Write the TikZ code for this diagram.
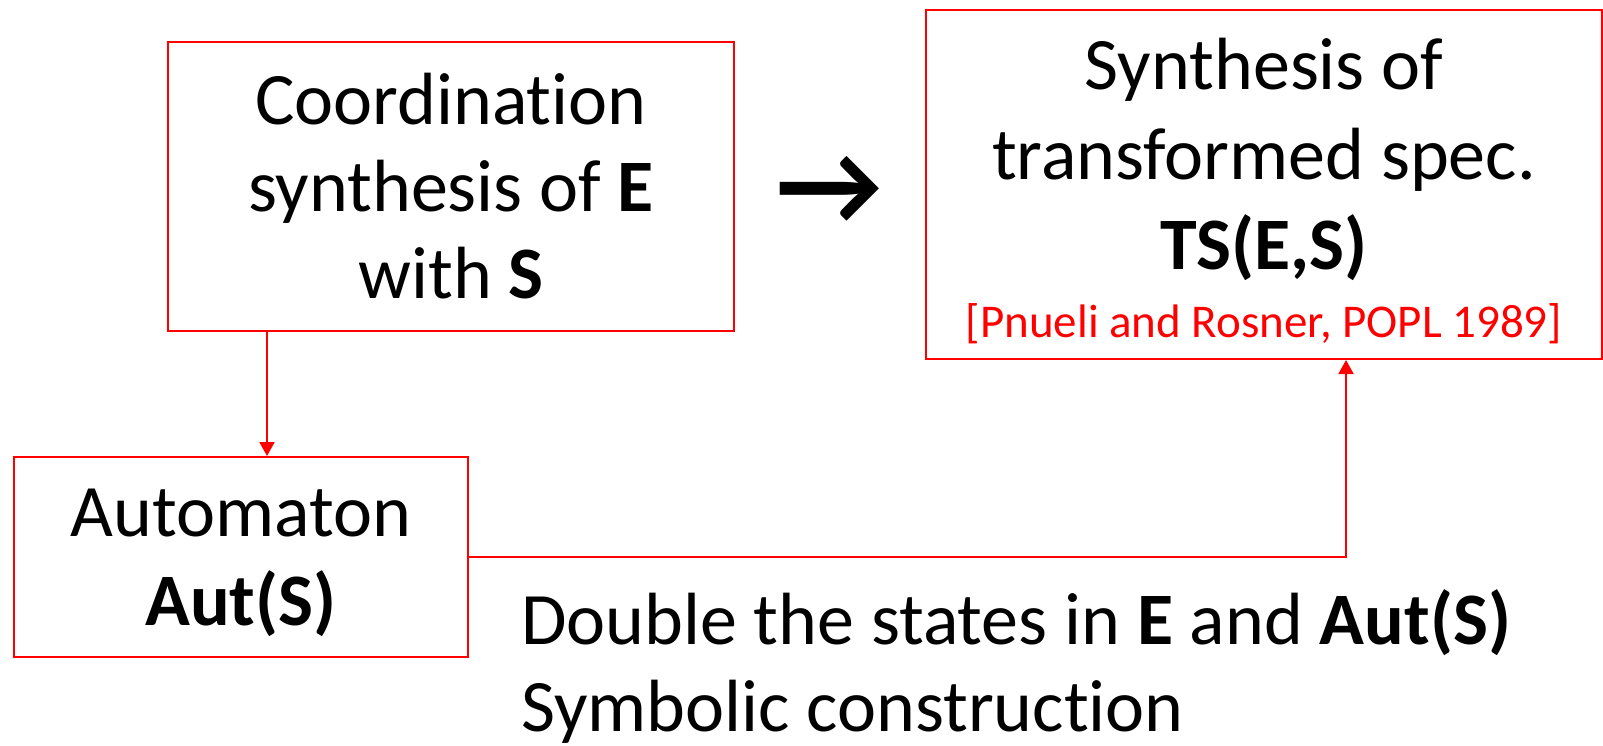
\documentclass[tikz,border=0pt]{standalone}
\usepackage{fontspec}
\setmainfont[Ligatures={NoCommon}]{Carlito}
\usetikzlibrary{arrows.meta}
\begin{document}
\begin{tikzpicture}[x=1pt,y=-1pt,
  box/.style={draw=red, line width=2pt, rectangle, inner sep=0pt, align=center, font=\fontsize{74}{87}\selectfont},
  link/.style={draw=red, line width=2pt, -{Triangle[length=14pt,width=15pt]}},
  txt/.style={inner sep=0pt, font=\fontsize{74}{87}\selectfont}]
\useasboundingbox (0,0) rectangle (1603,745);
\node[box, minimum width=566pt, minimum height=289pt] (coord) at (451,186.5)
  {Coordination\\synthesis of \textbf{E}\\with \textbf{S}};
\node[box, minimum width=676pt, minimum height=349pt, font=\fontsize{74}{90}\selectfont] (ts) at (1264,184.5)
  {\rule{0pt}{64pt}Synthesis of\\transformed spec.\\\textbf{TS(E,S)}\\[-22pt]\color{red}\fontsize{47}{57}\selectfont [Pnueli and Rosner, POPL 1989]};
\node[box, minimum width=454pt, minimum height=200pt, font=\fontsize{74}{89}\selectfont] (auto) at (241,557)
  {\rule{0pt}{59pt}Automaton\\\textbf{Aut(S)}};
\node[txt, font=\fontsize{117}{120}\selectfont\bfseries] (arrow) at (829,190) {→};
\node[txt, align=left, anchor=base west] (note) at (521,731)
  {Double the states in \textbf{E} and \textbf{Aut(S)}\\Symbolic construction};
\coordinate (x1) at (267,0);
\coordinate (x2) at (1346,0);
\draw[link] (coord.south -| x1) -- (auto.north -| x1);
\draw[link] (auto.east) -| (ts.south -| x2);
\end{tikzpicture}
\end{document}
